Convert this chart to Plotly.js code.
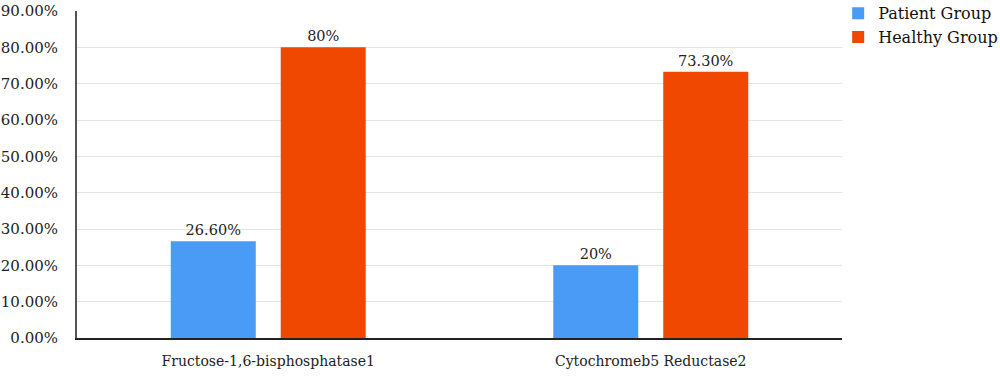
<!DOCTYPE html>
<html>
<head>
<meta charset="utf-8">
<script src="https://cdn.plot.ly/plotly-3.0.1.min.js"></script>
<style>html,body{margin:0;padding:0;background:#fff;}#chart{width:1000px;height:383px;}</style>
</head>
<body>
<div id="chart"></div>
<script>
const categories = ["Fructose-1,6-bisphosphatase1", "Cytochromeb5 Reductase2"];
const patientValues = [0.266, 0.20];
const healthyValues = [0.80, 0.733];
const patientLabels = ["26.60%", "20%"];
const healthyLabels = ["80%", "73.30%"];
const seriesNames = ["Patient Group", "Healthy Group"];

const serif = "DejaVu Serif, serif";
const traces = [
  {type: "bar", name: seriesNames[0], x: categories, y: patientValues, text: patientLabels,
   textposition: "outside", cliponaxis: false, marker: {color: "#4a9bf5"},
   textfont: {family: serif, size: 14.5, color: "#222"}, hoverinfo: "none"},
  {type: "bar", name: seriesNames[1], x: categories, y: healthyValues, text: healthyLabels,
   textposition: "outside", cliponaxis: false, marker: {color: "#f04800"},
   textfont: {family: serif, size: 14.5, color: "#222"}, hoverinfo: "none"}
];
const layout = {
  width: 1000, height: 383,
  margin: {l: 77, r: 158, t: 11, b: 45, autoexpand: false},
  paper_bgcolor: "#fff", plot_bgcolor: "#fff",
  barmode: "group", bargap: 0.425, bargroupgap: 0.227,
  font: {family: serif, size: 14, color: "#222"},
  xaxis: {showline: true, linecolor: "#222", linewidth: 2, ticks: "", showgrid: false, automargin: false,
          ticklabelstandoff: 9,
          tickfont: {family: serif, size: 14, color: "#222"}},
  yaxis: {range: [0, 0.9], dtick: 0.1, tickformat: ".2%", showline: true, linecolor: "#555", linewidth: 2,
          gridcolor: "#e2e5e8", gridwidth: 1, zeroline: false, ticks: "", ticklen: 0, automargin: false,
          ticklabelstandoff: 14,
          tickfont: {family: serif, size: 15, color: "#222"}},
  legend: {x: 0.995, y: 1.045, xanchor: "left", yanchor: "top", font: {family: serif, size: 16, color: "#111"},
           tracegroupgap: 0, bgcolor: "rgba(0,0,0,0)"},
  showlegend: true
};
Plotly.newPlot("chart", traces, layout, {displayModeBar: false, staticPlot: true});
</script>
</body>
</html>
